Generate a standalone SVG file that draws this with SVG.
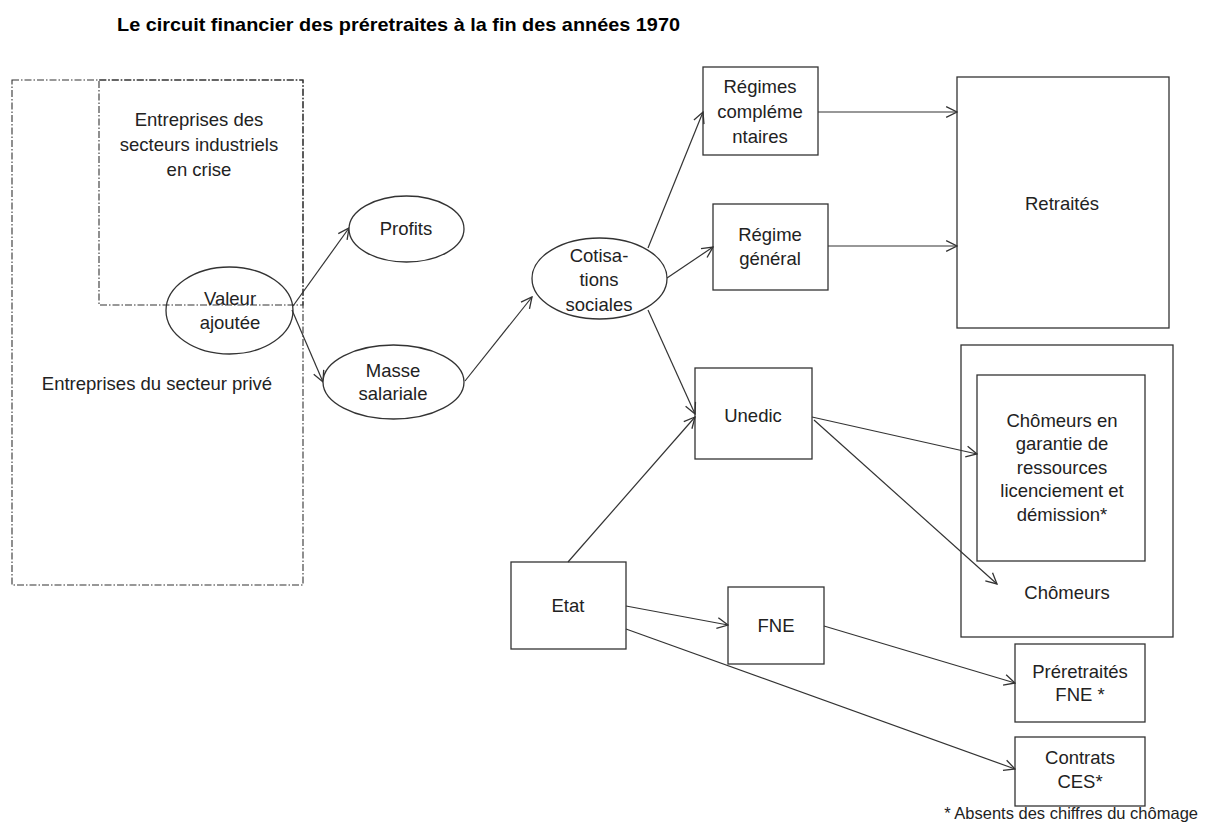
<svg xmlns="http://www.w3.org/2000/svg" width="1205" height="827" viewBox="0 0 1205 827">
<style>
text{font-family:"Liberation Sans",Arial,sans-serif;font-size:18.5px;fill:#222;text-anchor:middle}
.title{font-weight:bold;font-size:19px;text-anchor:start;fill:#000}
.box{fill:none;stroke:#333;stroke-width:1.3}
.ell{fill:#fff;stroke:#333;stroke-width:1.3}
.dash{fill:none;stroke:#333;stroke-width:1.1;stroke-dasharray:7,2,1.5,2}
.con{fill:none;stroke:#333;stroke-width:1.2;marker-end:url(#arr)}
.foot{font-size:16.5px;text-anchor:end}
</style>
<defs>
<marker id="arr" viewBox="0 0 12 12" refX="11" refY="6" markerWidth="13" markerHeight="13" markerUnits="userSpaceOnUse" orient="auto">
<path d="M1,1 L11,6 L1,11" fill="none" stroke="#333" stroke-width="1.2"/>
</marker>
</defs>
<rect width="1205" height="827" fill="#fff"/>
<text class="title" x="117" y="31" textLength="563" lengthAdjust="spacingAndGlyphs">Le circuit financier des préretraites à la fin des années 1970</text>

<g id="secteur-prive">
<rect class="dash" x="12" y="80" width="291" height="505"/>
<text x="157" y="390">Entreprises du secteur privé</text>
</g>
<g id="secteurs-crise">
<rect class="dash" x="99" y="80" width="204" height="225"/>
<text x="199" y="126">Entreprises des</text>
<text x="199" y="151">secteurs industriels</text>
<text x="199" y="176">en  crise</text>
</g>

<g id="connectors">
<line class="con" x1="293" y1="306" x2="349" y2="228"/>
<line class="con" x1="292" y1="310" x2="323" y2="382"/>
<line class="con" x1="465" y1="381" x2="532" y2="297"/>
<line class="con" x1="648" y1="248" x2="703" y2="112"/>
<line class="con" x1="667" y1="278" x2="713" y2="247"/>
<line class="con" x1="648" y1="310" x2="695" y2="414"/>
<line class="con" x1="818" y1="112" x2="957" y2="112"/>
<line class="con" x1="828" y1="246" x2="957" y2="246"/>
<line class="con" x1="812" y1="417" x2="977" y2="454"/>
<line class="con" x1="814" y1="420" x2="997" y2="584"/>
<line class="con" x1="568" y1="562" x2="695" y2="417"/>
<line class="con" x1="626" y1="606" x2="728" y2="625"/>
<line class="con" x1="824" y1="626" x2="1015" y2="683"/>
<line class="con" x1="626" y1="629" x2="1015" y2="769"/>
</g>

<g id="valeur-ajoutee">
<ellipse class="ell" cx="229.5" cy="310.5" rx="63.5" ry="43.5" fill-opacity="0"/>
<text x="230" y="305">Valeur</text>
<text x="230" y="329">ajoutée</text>
</g>
<g id="profits">
<ellipse class="ell" cx="406.5" cy="229" rx="57.5" ry="33"/>
<text x="406" y="235">Profits</text>
</g>
<g id="masse-salariale">
<ellipse class="ell" cx="393.5" cy="382" rx="70.5" ry="37"/>
<text x="393" y="377">Masse</text>
<text x="393" y="400">salariale</text>
</g>
<g id="cotisations">
<ellipse class="ell" cx="599.5" cy="278.5" rx="67.5" ry="40.5"/>
<text x="599" y="262">Cotisa-</text>
<text x="599" y="286">tions</text>
<text x="599" y="311">sociales</text>
</g>
<g id="regimes-complementaires">
<rect class="box" x="703" y="67" width="115" height="88"/>
<text x="760" y="93">Régimes</text>
<text x="760" y="118">compléme</text>
<text x="760" y="143">ntaires</text>
</g>
<g id="regime-general">
<rect class="box" x="713" y="204" width="115" height="86"/>
<text x="770" y="241">Régime</text>
<text x="770" y="265">général</text>
</g>
<g id="retraites">
<rect class="box" x="957" y="77" width="212" height="251"/>
<text x="1062" y="210">Retraités</text>
</g>
<g id="chomeurs">
<rect class="box" x="961" y="345" width="212" height="292"/>
<text x="1067" y="599">Chômeurs</text>
</g>
<g id="chomeurs-garantie">
<rect class="box" x="977" y="375" width="168" height="186"/>
<text x="1062" y="427">Chômeurs en</text>
<text x="1062" y="450">garantie de</text>
<text x="1062" y="474">ressources</text>
<text x="1062" y="497">licenciement et</text>
<text x="1062" y="521">démission*</text>
</g>
<g id="unedic">
<rect class="box" x="695" y="368" width="117" height="91"/>
<text x="753" y="422">Unedic</text>
</g>
<g id="etat">
<rect class="box" x="511" y="562" width="115" height="87"/>
<text x="568" y="612">Etat</text>
</g>
<g id="fne">
<rect class="box" x="728" y="587" width="96" height="77"/>
<text x="776" y="632">FNE</text>
</g>
<g id="preretraites-fne">
<rect class="box" x="1015" y="644" width="130" height="78"/>
<text x="1080" y="678">Préretraités</text>
<text x="1080" y="701">FNE *</text>
</g>
<g id="contrats-ces">
<rect class="box" x="1015" y="737" width="130" height="69"/>
<text x="1080" y="764">Contrats</text>
<text x="1080" y="788">CES*</text>
</g>
<text class="foot" x="1198" y="819">* Absents des chiffres du chômage</text>
</svg>
